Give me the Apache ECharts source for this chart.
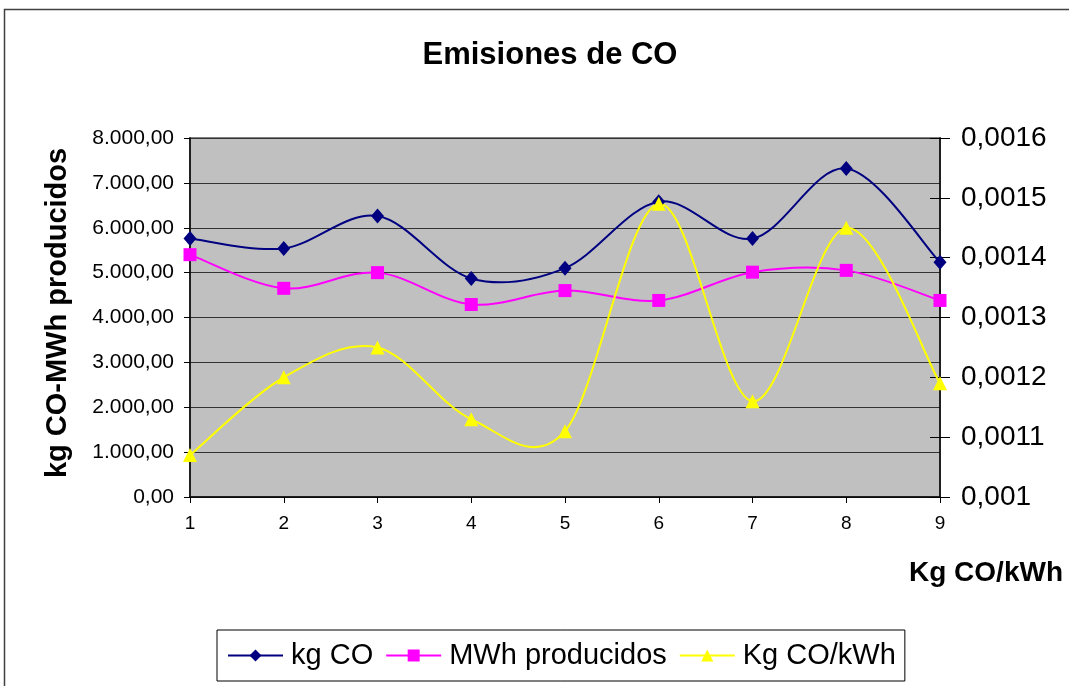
<!DOCTYPE html>
<html>
<head>
<meta charset="utf-8">
<script src="https://cdn.jsdelivr.net/npm/echarts@6/dist/echarts.min.js"></script>
<style>
html,body{margin:0;padding:0;background:#fff;}
#chart{width:1069px;height:686px;}
</style>
</head>
<body>
<div id="chart"></div>
<script>
const categories = ['1','2','3','4','5','6','7','8','9'];
const kgCO = [5760, 5540, 6260, 4870, 5100, 6580, 5760, 7320, 5230];
const mwhProducidos = [5400, 4650, 5000, 4290, 4600, 4380, 5010, 5050, 4380];
const kgCOkWh = [0.00107, 0.00120, 0.00125, 0.00113, 0.00111, 0.00149, 0.00116, 0.00145, 0.00119];
const seriesNames = ['kg CO', 'MWh producidos', 'Kg CO/kWh'];
const seriesColors = ['#000080', '#FF00FF', '#FFFF00'];
const titleText = 'Emisiones de CO';
const leftAxisName = 'kg CO-MWh producidos';
const rightAxisName = 'Kg CO/kWh';

const FONT = "'Liberation Sans', Arial, sans-serif";

function fmtLeft(v){
  const s = Number(v).toFixed(2);
  let parts = s.split('.');
  parts[0] = parts[0].replace(/\B(?=(\d{3})+(?!\d))/g, '.');
  return parts[0] + ',' + parts[1];
}
function fmtRight(v){
  return String(parseFloat(Number(v).toFixed(4))).replace('.', ',');
}

// Excel-like smoothed line (Catmull-Rom Bezier) drawn through the library's coordinate system
function smoothCurve(values, color){
  return function(params, api){
    if (params.dataIndex !== 0) return null;
    const pts = values.map((v, i) => api.coord([i, v]));
    const n = pts.length;
    const children = [];
    for (let i = 0; i < n - 1; i++){
      const p0 = pts[Math.max(i - 1, 0)];
      const p1 = pts[i];
      const p2 = pts[i + 1];
      const p3 = pts[Math.min(i + 2, n - 1)];
      children.push({
        type: 'bezierCurve',
        shape: {
          x1: p1[0], y1: p1[1],
          x2: p2[0], y2: p2[1],
          cpx1: p1[0] + (p2[0] - p0[0]) / 6,
          cpy1: p1[1] + (p2[1] - p0[1]) / 6,
          cpx2: p2[0] - (p3[0] - p1[0]) / 6,
          cpy2: p2[1] - (p3[1] - p1[1]) / 6
        },
        style: {stroke: color, lineWidth: 2, fill: null}
      });
    }
    return {type: 'group', children: children};
  };
}

const chart = echarts.init(document.getElementById('chart'), null, {renderer:'canvas'});
const option = {
  backgroundColor: '#ffffff',
  animation: false,
  title: {
    text: titleText,
    left: 545,
    top: 35,
    textAlign: 'center',
    textStyle: {fontFamily: FONT, fontSize: 31, fontWeight: 'bold', color: '#000'}
  },
  graphic: [
    {type:'rect', shape:{x:4.5, y:9.5, width:1100, height:720}, style:{fill:'none', stroke:'#404040', lineWidth:1.5}, silent:true, z:-10},
    {type:'text', x:58, y:313, rotation: Math.PI/2, style:{text:leftAxisName, fontFamily:FONT, fontSize:29, fontWeight:'bold', fill:'#000', textAlign:'center', textVerticalAlign:'middle'}},
    {type:'text', x:909, y:573, style:{text:rightAxisName, fontFamily:FONT, fontSize:28, fontWeight:'bold', fill:'#000', textAlign:'left', textVerticalAlign:'middle'}}
  ],
  legend: {
    left: 217,
    top: 630,
    orient: 'horizontal',
    data: seriesNames,
    itemWidth: 55,
    itemHeight: 15,
    itemGap: 12,
    padding: [11, 9, 11, 10],
    borderColor: '#000',
    borderWidth: 1,
    backgroundColor: '#fff',
    lineStyle: {opacity: 1, width: 2},
    textStyle: {fontFamily: FONT, fontSize: 29, color: '#000', padding:[0,0,0,3]}
  },
  grid: {
    left: 190, right: 129, top: 138, bottom: 189,
    show: true, backgroundColor: '#C0C0C0', borderColor: '#808080', borderWidth: 2
  },
  xAxis: {
    type: 'category',
    data: categories,
    boundaryGap: false,
    axisLine: {lineStyle:{color:'#000', width:1.5}},
    axisTick: {length: 6, lineStyle:{color:'#000'}},
    axisLabel: {fontFamily: FONT, fontSize: 19, color:'#000', margin: 17},
    splitLine: {show:false}
  },
  yAxis: [
    {
      type: 'value', position: 'left', min: 0, max: 8000, interval: 1000,
      axisLine: {show:true, lineStyle:{color:'#000', width:1.5}},
      axisTick: {show:true, length:6, lineStyle:{color:'#000'}},
      axisLabel: {fontFamily: FONT, fontSize: 21, color:'#000', margin: 16, formatter: fmtLeft},
      splitLine: {show:true, lineStyle:{color:'#333', width:1}}
    },
    {
      type: 'value', position: 'right', min: 0.0010, max: 0.0016, interval: 0.0001,
      axisLine: {show:true, lineStyle:{color:'#000', width:1.5}},
      axisTick: {show:true, length:10, lineStyle:{color:'#000'}},
      axisLabel: {fontFamily: FONT, fontSize: 28, color:'#000', margin: 21, formatter: fmtRight},
      splitLine: {show:false}
    },
    {
      type: 'value', position: 'right', min: 0.0010, max: 0.0016, interval: 0.0001,
      axisLine: {show:false},
      axisTick: {show:true, inside:true, length:10, lineStyle:{color:'#000'}},
      axisLabel: {show:false},
      splitLine: {show:false}
    }
  ],
  series: [
    {
      name: 'curve-kgCO', type:'custom', yAxisIndex:0, z:2, silent:true,
      data: kgCO.map((v, i) => [i, v]), encode:{x:0, y:1},
      renderItem: smoothCurve(kgCO, seriesColors[0])
    },
    {
      name: 'curve-mwh', type:'custom', yAxisIndex:0, z:2, silent:true,
      data: mwhProducidos.map((v, i) => [i, v]), encode:{x:0, y:1},
      renderItem: smoothCurve(mwhProducidos, seriesColors[1])
    },
    {
      name: 'curve-ratio', type:'custom', yAxisIndex:1, z:2, silent:true,
      data: kgCOkWh.map((v, i) => [i, v]), encode:{x:0, y:1},
      renderItem: smoothCurve(kgCOkWh, seriesColors[2])
    },
    {
      name: seriesNames[0], type:'line', yAxisIndex:0, data:kgCO,
      symbol:'diamond', symbolSize:[13,15], color:seriesColors[0],
      lineStyle:{color:seriesColors[0], width:2, opacity:0}, itemStyle:{color:seriesColors[0]}, z:3
    },
    {
      name: seriesNames[1], type:'line', yAxisIndex:0, data:mwhProducidos,
      symbol:'rect', symbolSize:13, color:seriesColors[1],
      lineStyle:{color:seriesColors[1], width:2, opacity:0}, itemStyle:{color:seriesColors[1]}, z:4
    },
    {
      name: seriesNames[2], type:'line', yAxisIndex:1, data:kgCOkWh,
      symbol:'triangle', symbolSize:14, color:seriesColors[2],
      lineStyle:{color:seriesColors[2], width:2, opacity:0}, itemStyle:{color:seriesColors[2]}, z:5
    }
  ]
};
chart.setOption(option);
</script>
</body>
</html>
